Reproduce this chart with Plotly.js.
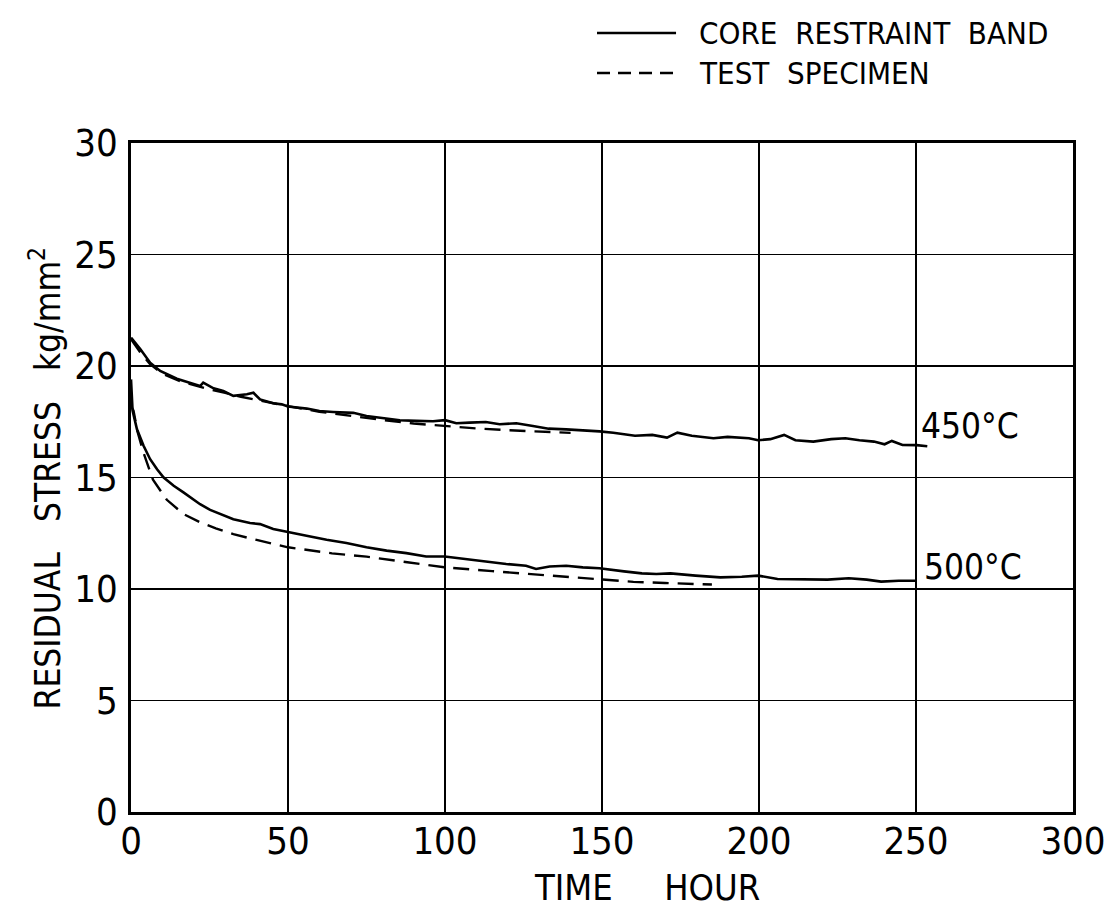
<!DOCTYPE html>
<html>
<head>
<meta charset="utf-8">
<script src="https://cdn.plot.ly/plotly-3.0.1.min.js"></script>
<style>
  html, body { margin: 0; padding: 0; background: #fff; }
  #chart { width: 1116px; height: 920px; }
</style>
</head>
<body>
<div id="chart"></div>
<script>
// ---- data ----
const xTickVals = [0, 50, 100, 150, 200, 250, 300];
const yTickVals = [0, 5, 10, 15, 20, 25, 30];

// 450 °C, core restraint band (solid)
const core450X = [0, 3, 6.1, 9.3, 14.6, 18.9, 22, 23, 26.3, 29.4, 32.6, 36.9, 39, 41.1, 45.3, 48, 50,
  56, 60, 64.4, 70.8, 75, 81.4, 85.6, 90.9, 96.2, 100, 103.6, 107.8, 113, 117.4, 122.7, 128, 133,
  138.6, 143.9, 149.2, 153.6, 160.5, 166, 170.7, 174, 178.6, 185.5, 190, 196.8, 199.7, 203.6, 208,
  211.6, 217.3, 223, 227.5, 232, 236.6, 240, 242.3, 245.7, 250.2, 253.6];
const core450Y = [21.27, 20.75, 20.15, 19.78, 19.43, 19.25, 19.1, 19.25, 19.0, 18.88, 18.66, 18.73, 18.8, 18.5, 18.33, 18.28, 18.18,
  18.09, 17.98, 17.94, 17.9, 17.76, 17.64, 17.57, 17.54, 17.52, 17.57, 17.43, 17.46, 17.49, 17.39, 17.43, 17.31, 17.19,
  17.16, 17.12, 17.07, 17.01, 16.87, 16.91, 16.79, 17.01, 16.87, 16.76, 16.82, 16.76, 16.67, 16.72, 16.91,
  16.67, 16.61, 16.72, 16.76, 16.67, 16.61, 16.49, 16.64, 16.46, 16.45, 16.4];

// 450 °C, test specimen (dashed)
const test450X = [0, 3, 6, 10, 15, 20, 25, 30, 35, 40, 45, 50, 60, 70, 80, 90, 100, 110, 120, 130, 140];
const test450Y = [21.2, 20.6, 20.1, 19.65, 19.35, 19.15, 18.95, 18.8, 18.62, 18.48, 18.33, 18.2, 17.95, 17.75, 17.58, 17.42, 17.3, 17.2, 17.12, 17.05, 17.0];

// 500 °C, core restraint band (solid)
const core500X = [0, 0.5, 1.9, 4, 6.1, 8.3, 10.4, 13.6, 16.7, 19.9, 22, 25.2, 28.4, 32.6, 37.9, 41.1, 45.3, 50.1,
  55.9, 62.3, 68.6, 75, 81.4, 87.7, 94, 99.9, 106.8, 113.1, 119.5, 125.8, 129, 133.3, 138.6, 143.9, 149.2,
  157, 162.7, 167.3, 171.8, 179.8, 187.7, 194.5, 199.7, 205.9, 213.9, 221.8, 228.6, 234.3, 238.9, 244.5, 250.2];
const core500Y = [19.4, 18.0, 17.16, 16.42, 15.82, 15.37, 15.0, 14.63, 14.33, 14.03, 13.8, 13.55, 13.36, 13.13, 12.96, 12.91, 12.69, 12.54,
  12.39, 12.21, 12.06, 11.87, 11.72, 11.61, 11.46, 11.46, 11.34, 11.22, 11.12, 11.04, 10.9, 11.01, 11.04, 10.97, 10.93,
  10.79, 10.7, 10.67, 10.7, 10.6, 10.52, 10.55, 10.6, 10.45, 10.43, 10.42, 10.48, 10.42, 10.33, 10.37, 10.37];

// 500 °C, test specimen (dashed)
const test500X = [0, 0.8, 2, 4, 7, 11.4, 16.7, 22, 27, 32.6, 40, 50, 64, 75, 88, 100, 115, 128, 140, 150, 160, 170, 180, 185];
const test500Y = [18.2, 18.0, 17.1, 16.1, 14.9, 14.0, 13.36, 12.99, 12.72, 12.46, 12.2, 11.87, 11.6, 11.45, 11.2, 10.97, 10.8, 10.67, 10.55, 10.42, 10.32, 10.27, 10.22, 10.2];

const legendNames = ["CORE\u00A0\u00A0RESTRAINT\u00A0\u00A0BAND", "TEST\u00A0\u00A0SPECIMEN"];
const curveLabels = ["450°C", "500°C"];
const curveLabelPos = [[251, 17.3], [252, 11.0]];
const xTitle = "TIME\u00A0\u00A0\u00A0\u00A0\u00A0HOUR";
const yTitle = "RESIDUAL\u00A0\u00A0\u00A0STRESS\u00A0\u00A0\u00A0kg/mm<sup>2</sup>";

// ---- styling ----
const FONT = '"DejaVu Sans Condensed", "Liberation Sans", sans-serif';
const solid = {color: '#000', width: 2.6, dash: 'solid'};
const dashed = {color: '#000', width: 2.4, dash: '16px,9px'};

const traces = [
  {x: core450X, y: core450Y, mode: 'lines', line: solid, name: legendNames[0], showlegend: false},
  {x: test450X, y: test450Y, mode: 'lines', line: dashed, name: legendNames[1], showlegend: false},
  {x: core500X, y: core500Y, mode: 'lines', line: solid, name: legendNames[0], showlegend: false},
  {x: test500X, y: test500Y, mode: 'lines', line: dashed, name: legendNames[1], showlegend: false}
];

const layout = {
  width: 1116, height: 920,
  margin: {l: 131, r: 43, t: 143, b: 108},
  paper_bgcolor: '#fff', plot_bgcolor: '#fff',
  font: {family: FONT, color: '#000', size: 36},
  showlegend: false,
  xaxis: {
    range: [0, 300], tickvals: xTickVals, ticktext: xTickVals.map(String),
    showgrid: true, gridcolor: '#000', gridwidth: 1.3,
    zeroline: false, showline: true, linecolor: '#000', linewidth: 2.6, mirror: true,
    ticks: '', ticklabelstandoff: -6,
    tickfont: {family: FONT, size: 38, color: '#000'}
  },
  yaxis: {
    range: [0, 30], tickvals: yTickVals, ticktext: yTickVals.map(String),
    showgrid: true, gridcolor: '#000', gridwidth: 1.3,
    zeroline: false, showline: true, linecolor: '#000', linewidth: 2.6, mirror: true,
    ticks: '', ticklabelstandoff: 3,
    tickfont: {family: FONT, size: 38, color: '#000'}
  },
  shapes: [
    {type: 'line', xref: 'paper', yref: 'paper', x0: 0.4947, x1: 0.5786, y0: 1.1644, y1: 1.1644,
     line: {color: '#000', width: 2.4}},
    {type: 'line', xref: 'paper', yref: 'paper', x0: 0.4947, x1: 0.5786, y0: 1.1046, y1: 1.1046,
     line: {color: '#000', width: 2.4, dash: '13px,8px'}}
  ],
  annotations: [
    {xref: 'paper', yref: 'paper', x: 0.6008, y: 1.1644, xanchor: 'left', yanchor: 'middle',
     text: legendNames[0], showarrow: false, font: {family: FONT, size: 31, color: '#000'}},
    {xref: 'paper', yref: 'paper', x: 0.6008, y: 1.1046, xanchor: 'left', yanchor: 'middle',
     text: legendNames[1], showarrow: false, font: {family: FONT, size: 31, color: '#000'}},
    {xref: 'x', yref: 'y', x: curveLabelPos[0][0], y: curveLabelPos[0][1], xanchor: 'left', yanchor: 'middle',
     text: curveLabels[0], showarrow: false, font: {family: FONT, size: 35, color: '#000'}},
    {xref: 'x', yref: 'y', x: curveLabelPos[1][0], y: curveLabelPos[1][1], xanchor: 'left', yanchor: 'middle',
     text: curveLabels[1], showarrow: false, font: {family: FONT, size: 35, color: '#000'}},
    {xref: 'paper', yref: 'paper', x: 0.548, y: -0.1136, xanchor: 'center', yanchor: 'middle',
     text: xTitle, showarrow: false, font: {family: FONT, size: 36, color: '#000'}},
    {xref: 'paper', yref: 'paper', x: -0.0913, y: 0.5, xanchor: 'center', yanchor: 'middle', textangle: -90,
     text: yTitle, showarrow: false, font: {family: FONT, size: 35, color: '#000'}}
  ]
};

Plotly.newPlot('chart', traces, layout, {staticPlot: true, displayModeBar: false});
</script>
</body>
</html>
